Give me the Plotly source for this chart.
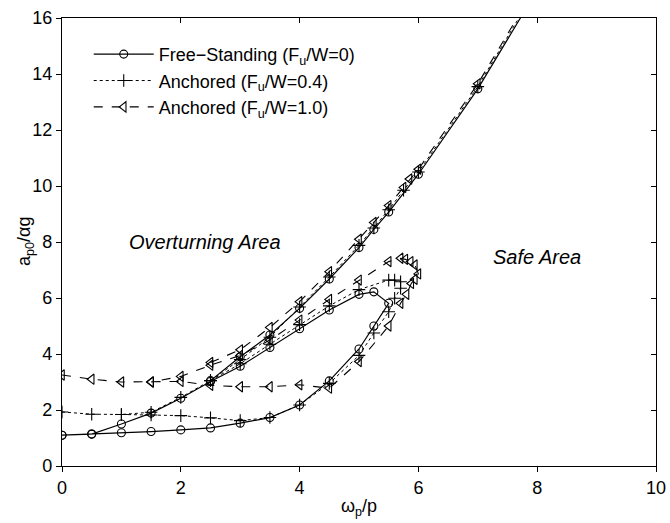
import plotly.graph_objects as go

# ---------------- data ----------------
# Free-standing (Fu/W=0): closed loop (lower branch out, middle branch back) + upper branch
fs_loop_x = [0, 0.5, 1, 1.5, 2, 2.5, 3, 3.5, 4, 4.5, 5, 5.25, 5.5,
             5.25, 5, 4.5, 4, 3.5, 3, 2.5, 2, 1.5, 1, 0.5, 0]
fs_loop_y = [1.1, 1.14, 1.19, 1.23, 1.29, 1.36, 1.53, 1.73, 2.18, 3.04, 4.18, 5.0, 5.81,
             6.22, 6.13, 5.57, 4.9, 4.23, 3.56, 3.02, 2.42, 1.89, 1.5, 1.14, 1.1]
fs_up_x = [2.5, 3, 3.5, 4, 4.5, 5, 5.25, 5.5, 6, 7, 8]
fs_up_y = [3.05, 3.9, 4.68, 5.63, 6.68, 7.8, 8.45, 9.07, 10.42, 13.47, 17.0]

# Anchored (Fu/W=0.4)
a4_loop_x = [0, 0.5, 1, 1.5, 2, 2.5, 3, 3.5, 4, 4.5, 5, 5.25, 5.5, 5.6, 5.7,
             5.7, 5.6, 5.5, 5, 4.5, 4, 3.5, 3, 2.5, 2, 1.5, 1]
a4_loop_y = [1.93, 1.85, 1.84, 1.82, 1.8, 1.72, 1.62, 1.73, 2.18, 2.95, 3.95, 4.75, 5.51, 5.99, 6.35,
             6.58, 6.64, 6.64, 6.3, 5.72, 5.05, 4.35, 3.65, 3.05, 2.45, 1.92, 1.84]
a4_up_x = [2.5, 3, 3.5, 4, 4.5, 5, 5.25, 5.5, 5.75, 6, 7, 8]
a4_up_y = [3.05, 3.8, 4.6, 5.68, 6.75, 7.88, 8.5, 9.15, 9.85, 10.5, 13.55, 17.1]

# Anchored (Fu/W=1.0)
a1_loop_x = [0, 0.5, 1, 1.5, 2, 2.5, 3, 3.5, 4, 4.5, 5, 5.5, 5.7, 5.8, 5.88, 5.94, 6.0,
             5.94, 5.87, 5.78, 5.7, 5.5, 5, 4.5, 4, 3.5, 3, 2.5, 2, 1.5]
a1_loop_y = [3.25, 3.1, 3.0, 3.0, 3.02, 2.88, 2.83, 2.83, 2.9, 2.78, 3.73, 5.0, 5.81, 6.13, 6.52, 6.67, 6.86,
             7.18, 7.3, 7.38, 7.42, 7.3, 6.64, 5.95, 5.21, 4.5, 3.95, 3.6, 3.2, 3.0]
a1_up_x = [2.5, 3, 3.5, 4, 4.5, 5, 5.25, 5.5, 5.75, 5.85, 6, 7, 8]
a1_up_y = [3.7, 4.15, 4.95, 5.87, 6.94, 8.1, 8.7, 9.3, 9.95, 10.25, 10.6, 13.65, 17.2]

x_ticks = [0, 2, 4, 6, 8, 10]
y_ticks = [0, 2, 4, 6, 8, 10, 12, 14, 16]

names = ["Free\u2212Standing (F<sub>u</sub>/W=0)",
         "Anchored (F<sub>u</sub>/W=0.4)",
         "Anchored (F<sub>u</sub>/W=1.0)"]

# ---------------- figure ----------------
FONT = "Liberation Sans, Arial, Helvetica, sans-serif"
fig = go.Figure()

def join(ax, ay, bx, by):
    return list(ax) + [None] + list(bx), list(ay) + [None] + list(by)

series = [
    (fs_loop_x, fs_loop_y, fs_up_x, fs_up_y, "solid", "circle-open", 8, 1.2),
    (a4_loop_x, a4_loop_y, a4_up_x, a4_up_y, "dot", "cross-thin-open", 9, 1.0),
    (a1_loop_x, a1_loop_y, a1_up_x, a1_up_y, "dash", "triangle-left-open", 9, 1.1),
]
for (lx, ly, ux, uy, dash, sym, ms, lw), nm in zip(series, names):
    xs, ys = join(lx, ly, ux, uy)
    fig.add_trace(go.Scatter(
        x=xs, y=ys, mode="lines+markers", name=nm,
        line=dict(color="black", width=lw, dash=dash),
        marker=dict(symbol=sym, size=ms, color="black",
                    line=dict(color="black", width=1.1)),
        connectgaps=False,
    ))

# dummy trace for mirrored (inside) ticks on top/right
fig.add_trace(go.Scatter(x=[None], y=[None], xaxis="x2", yaxis="y2",
                         showlegend=False, hoverinfo="skip"))

axis_common = dict(showgrid=False, zeroline=False, showline=True,
                   linecolor="black", linewidth=1.2,
                   tickcolor="black", tickfont=dict(family=FONT, size=18, color="black"))

fig.update_layout(
    width=670, height=523,
    margin=dict(l=62, r=14, t=18, b=57),
    paper_bgcolor="white", plot_bgcolor="white",
    font=dict(family=FONT, color="black"),
    xaxis=dict(range=[0, 10], tickvals=x_ticks, ticks="outside", ticklen=5,
               title=dict(text="\u03c9<sub>p</sub>/p", font=dict(family=FONT, size=18), standoff=2),
               automargin=False, **axis_common),
    yaxis=dict(range=[0, 16], tickvals=y_ticks, ticks="outside", ticklen=5,
               automargin=False, **axis_common),
    xaxis2=dict(range=[0, 10], tickvals=x_ticks, ticks="inside", ticklen=5, overlaying="x",
                side="top", showticklabels=False, **axis_common),
    yaxis2=dict(range=[0, 16], tickvals=y_ticks, ticks="inside", ticklen=5, overlaying="y",
                side="right", showticklabels=False, **axis_common),
    legend=dict(x=0.045, y=0.96, xanchor="left", yanchor="top",
                bgcolor="rgba(255,255,255,0)", borderwidth=0,
                font=dict(family=FONT, size=18, color="black"),
                itemwidth=60, tracegroupgap=0),
    showlegend=True,
    annotations=[
        dict(x=2.4, y=8.0, xref="x", yref="y", text="<i>Overturning Area</i>",
             showarrow=False, font=dict(family=FONT, size=20, color="black")),
        dict(x=8.0, y=7.46, xref="x", yref="y", text="<i>Safe Area</i>",
             showarrow=False, font=dict(family=FONT, size=20, color="black")),
        dict(x=-37, y=0.5, xref="x domain", yref="y domain", xshift=0,
             text="a<sub>p0</sub>/\u03b1g", textangle=-90, showarrow=False,
             font=dict(family=FONT, size=18, color="black")),
    ],
)
# place y-axis title about 25 px from the left edge of the figure
fig.layout.annotations[2].update(x=0, xref="paper", xanchor="center", xshift=-37)

fig.write_html("out.html")
